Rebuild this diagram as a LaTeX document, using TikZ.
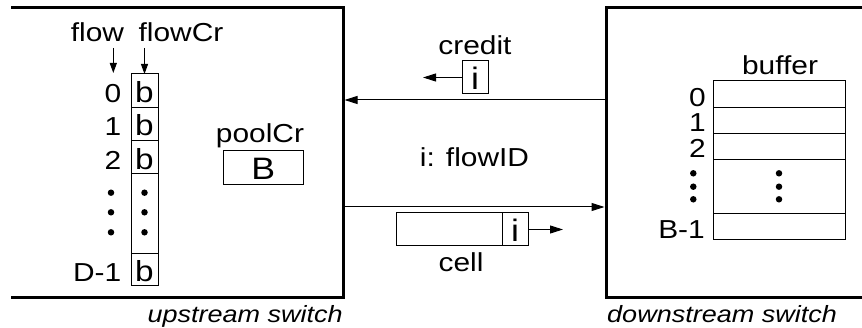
\documentclass[tikz,border=0pt]{standalone}
\usepackage{fontspec}
\setmainfont{Liberation Sans}[FakeStretch=1.15]
\usetikzlibrary{arrows.meta}
\begin{document}
\begin{tikzpicture}[x=1pt,y=-1pt,
  swline/.style={line width=3pt},
  cellbox/.style={draw,line width=1pt,inner sep=0pt,outer sep=0pt},
  lab/.style={font=\fontsize{26}{26}\selectfont,inner sep=0pt},
  big/.style={font=\fontsize{31}{31}\selectfont,inner sep=0pt},
  mid/.style={font=\fontsize{29}{29}\selectfont,inner sep=0pt},
  capt/.style={font=\fontsize{23.5}{23.5}\selectfont\itshape,inner sep=0pt},
  arr/.style={line width=1pt,-{Triangle[length=13pt,width=8pt]}},
  sarr/.style={line width=1pt,-{Triangle[length=10pt,width=7pt]}},
  dotc/.style={circle,fill,inner sep=0pt,minimum size=6.5pt}]
\useasboundingbox (0,0) rectangle (862,328);

% switches
\draw[swline] (11,8) -- (343,8) -- (343,298) -- (11,298);
\draw[swline] (862,8) -- (606,8) -- (606,298) -- (862,298);
\coordinate (upA) at (344.5,100);
\coordinate (dnA) at (604.5,100);
\coordinate (upB) at (344.5,207);
\coordinate (dnB) at (604.5,207);
\node[capt,anchor=base east] (upcap) at (343,323) {upstream switch};
\node[capt,anchor=base west] (dncap) at (607,323) {downstream switch};

% links
\draw[arr] (dnA) -- (upA);
\draw[arr] (upB) -- (dnB);
\node[lab,anchor=base] (credit) at (475,55) {credit};
\node[cellbox,minimum width=26pt,minimum height=33pt] (cb) at (475,77.5) {};
\node[big,anchor=base] (cbi) at (475,90) {i};
\coordinate (cbend) at (423,77.5);
\draw[arr] (cb.west) -- (cbend);
\node[lab,anchor=base] (fid) at (474.5,167) {i: flowID};
\node[cellbox,minimum width=106pt,minimum height=33pt] (cella) at (449,229.5) {};
\node[cellbox,minimum width=26pt,minimum height=33pt] (celli) at (515,229.5) {};
\node[big,anchor=base] (cii) at (515,242) {i};
\coordinate (cellend) at (563,229.5);
\draw[arr] (celli.east) -- (cellend);
\node[lab,anchor=base] (celllab) at (461,272) {cell};

% upstream column
\node[lab,anchor=base] (flow) at (97.5,42) {flow};
\node[lab,anchor=base] (flowcr) at (181,42) {flowCr};
\node[cellbox,minimum width=27pt,minimum height=34pt] (r0) at (144.5,91) {};
\node[cellbox,minimum width=27pt,minimum height=33pt] (r1) at (144.5,124.5) {};
\node[cellbox,minimum width=27pt,minimum height=33pt] (r2) at (144.5,157.5) {};
\node[cellbox,minimum width=27pt,minimum height=79.5pt] (rd) at (144.5,213.75) {};
\node[cellbox,minimum width=27pt,minimum height=32.5pt] (rD) at (144.5,269.75) {};
\coordinate (flowtop) at (113.3,48);
\coordinate (flowend) at (113.3,73);
\coordinate (crtop) at (144.5,48);
\draw[sarr] (flowtop) -- (flowend);
\draw[sarr] (crtop) -- (r0.north);
\foreach \n/\y/\t in {0/102.5/0,1/136/1,2/169.5/2}{
  \node[lab,anchor=base east] (fl\n) at (121.5,\y) {\t};
  \node[mid,anchor=base] (fb\n) at (144.5,\y) {b};
}
\node[lab,anchor=base east] (flD) at (121.5,281.5) {D-1};
\node[mid,anchor=base] (fbD) at (144.5,281.5) {b};
\foreach \y [count=\k] in {192.7,212.3,232.3}{
  \node[dotc] (ld\k) at (111,\y) {};
  \node[dotc] (cd\k) at (144.5,\y) {};
}
\node[lab,anchor=base] (pool) at (260,143) {poolCr};
\node[cellbox,minimum width=80pt,minimum height=34pt] (pb) at (263.3,168) {};
\node[big,anchor=base] (pbB) at (263.3,180) {B};

% downstream buffer
\node[lab,anchor=base] (buf) at (780,75) {buffer};
\node[cellbox,minimum width=132.5pt,minimum height=26.3pt] (b0) at (779.5,94.15) {};
\node[cellbox,minimum width=132.5pt,minimum height=26pt] (b1) at (779.5,120.3) {};
\node[cellbox,minimum width=132.5pt,minimum height=26.7pt] (b2) at (779.5,146.65) {};
\node[cellbox,minimum width=132.5pt,minimum height=53.3pt] (bd) at (779.5,186.65) {};
\node[cellbox,minimum width=132.5pt,minimum height=26pt] (bB) at (779.5,226.3) {};
\node[lab,anchor=base east] (bl0) at (706,106.5) {0};
\node[lab,anchor=base east] (bl1) at (706,132) {1};
\node[lab,anchor=base east] (bl2) at (706,158) {2};
\node[lab,anchor=base east] (blB) at (705,239) {B-1};
\foreach \y [count=\k] in {173.3,186.7,199.3}{
  \node[dotc] (bld\k) at (693.3,\y) {};
  \node[dotc] (bcd\k) at (779,\y) {};
}
\end{tikzpicture}
\end{document}
